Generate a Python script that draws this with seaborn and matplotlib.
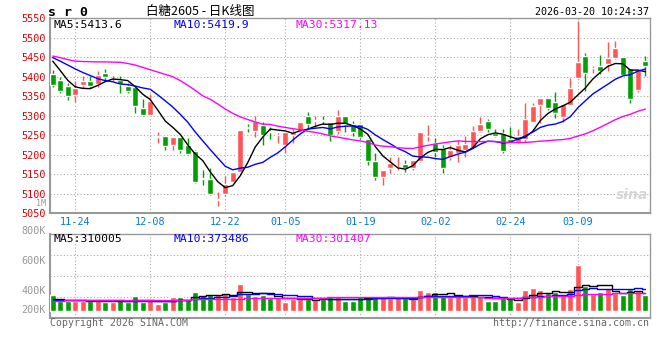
import numpy as np
import pandas as pd
import matplotlib
matplotlib.use("Agg")
import matplotlib.pyplot as plt
import seaborn as sns

sns.set_style("white")
plt.rcParams["font.family"] = ["DejaVu Sans Mono", "Noto Sans CJK SC"]

# ---- data (SR0 daily, 80 sessions) ----
opens = [5406.8, 5390.6, 5375, 5352, 5378.6, 5389, 5380, 5408.6, 5404, 5390.6,
         5376, 5372.6, 5318.7, 5301.6, 5245, 5246.8, 5225.6, 5245, 5223.7, 5208,
         5140, 5137.8, 5084, 5099.3, 5130, 5155.8, 5271, 5259.3, 5276.5, 5260,
         5250, 5224.2, 5251, 5259.3, 5299.6, 5286, 5288, 5283.3, 5259.3, 5299.6,
         5278, 5279, 5239.7, 5182.3, 5142, 5164.3, 5167, 5176.3, 5164.3, 5182.3,
         5247.5, 5228.6, 5215.8, 5194.4, 5203, 5211.5, 5215.8, 5261.2, 5286, 5256,
         5254.3, 5239.8, 5233, 5239, 5284.3, 5327, 5344.2, 5335.6, 5297, 5327,
         5395.6, 5452.9, 5422, 5427.2, 5432.4, 5446.9, 5450.4, 5423, 5365.6, 5440]
closes = [5378.6, 5362.3, 5349.5, 5371, 5389, 5375, 5403.4, 5398, 5405, 5381,
          5363, 5324.7, 5301.6, 5336.7, 5246, 5222, 5244, 5211, 5202, 5128.6,
          5137, 5099.3, 5086, 5124, 5155.8, 5263.6, 5268, 5286.7, 5250.8, 5258.5,
          5251, 5256.8, 5256.8, 5282.5, 5279, 5288, 5286, 5250.8, 5299.6, 5278,
          5256.8, 5244, 5182.3, 5142, 5159.2, 5178, 5168, 5166, 5186.6, 5258.5,
          5248.5, 5207, 5164.4, 5211.5, 5224.4, 5226.9, 5261.2, 5278.3, 5264.6, 5247.5,
          5209.8, 5228.6, 5247.5, 5290.3, 5324.5, 5345.9, 5318.5, 5307.4, 5329.7, 5371.6,
          5438.4, 5408.4, 5423, 5415.3, 5448.6, 5474.3, 5404.1, 5341.6, 5417, 5427.2]
highs = [5418, 5399, 5385, 5389, 5402.6, 5401.7, 5414.6, 5419, 5405, 5401.7,
         5384, 5377, 5342.6, 5356.3, 5257, 5247, 5244, 5246, 5241.6, 5211.6,
         5161, 5165, 5102.7, 5145.5, 5156, 5264, 5279, 5297.9, 5283.3, 5270.5,
         5255, 5257, 5265.3, 5283, 5309.8, 5299.6, 5299.6, 5284, 5315, 5300,
         5285, 5279, 5240, 5203.7, 5159.2, 5195, 5195, 5185, 5186.6, 5258.5,
         5276.5, 5241.5, 5224.4, 5224.4, 5237.2, 5248.3, 5273.2, 5297, 5292, 5267,
         5267, 5269.7, 5265.5, 5331.4, 5331.4, 5346, 5344.5, 5361.3, 5330, 5395.6,
         5542.8, 5459.8, 5427.2, 5455.5, 5489.7, 5491.4, 5450.4, 5423, 5417, 5453]
lows = [5373.5, 5359, 5339, 5334, 5371.7, 5371.7, 5373.5, 5391.4, 5388, 5358,
        5358, 5306.7, 5299, 5301.6, 5230.5, 5211, 5211, 5204, 5199.7, 5128,
        5122, 5097.5, 5068.5, 5092.4, 5130, 5154, 5256.8, 5244, 5223.4, 5239.7,
        5229, 5203.7, 5229.4, 5259, 5266, 5270.5, 5278, 5236, 5253, 5256.8,
        5246.5, 5239.7, 5173.7, 5135.2, 5122.4, 5152.3, 5159.2, 5155.8, 5159.2, 5182,
        5233.7, 5194.4, 5151.6, 5185.8, 5181.6, 5194.4, 5215, 5258.6, 5258.6, 5244,
        5204.7, 5228, 5228.6, 5233, 5284, 5280, 5314.3, 5292.8, 5284.3, 5327,
        5395, 5363, 5410.1, 5406.7, 5415.3, 5446, 5404, 5333, 5361.3, 5401.6]
volumes_k = [268, 165, 165, 165, 165, 165, 165, 154, 154, 182,
             154, 251, 154, 182, 114, 154, 233, 233, 199, 319,
             268, 285, 285, 302, 240, 456, 285, 257, 268, 216,
             227, 154, 194, 199, 199, 188, 199, 227, 227, 171,
             171, 240, 251, 227, 211, 211, 211, 211, 194, 353,
             319, 319, 257, 227, 257, 227, 257, 240, 165, 171,
             211, 227, 154, 353, 382, 353, 296, 313, 279, 365,
             780, 421, 279, 319, 387, 296, 268, 365, 337, 268]

# moving-average values at the left edge (window not yet full)
ma5_head = [5440, 5416, 5391, 5374]
ma10_head = [5449, 5440, 5430, 5420, 5411, 5403, 5395, 5390, 5387]
ma30_head = [5453, 5449, 5444, 5440, 5439, 5438.5, 5438, 5438, 5437.5, 5437,
             5434, 5430, 5424, 5418, 5412, 5406, 5400, 5390, 5378, 5365,
             5351, 5342, 5330, 5317, 5306, 5297, 5290, 5284, 5278]
vma5_head = [195, 193, 190, 188]
vma10_head = [183, 181, 180, 179, 178, 177, 176, 176, 175]
vma30_head = [174, 174, 175, 175, 176, 176, 177, 177, 178, 179,
              180, 180, 181, 182, 183, 185, 187, 189, 191, 193,
              195, 196, 198, 200, 202, 205, 209, 212, 216]

date_labels = ["11-24", "12-08", "12-22", "01-05", "01-19", "02-02", "02-24", "03-09"]
date_idx = [3, 13, 23, 31, 41, 51, 61, 70]

RED = "#ff5555"
GREEN = "#00a000"
GRID = "#aaaaaa"
FRAME = "#999999"

df = pd.DataFrame({"o": opens, "c": closes, "h": highs, "l": lows,
                   "v": np.array(volumes_k) * 1000})
df["i"] = np.arange(len(df))
df["dir"] = np.where(df["c"] >= df["o"], "up", "down")


def with_head(series, n, head):
    ma = series.rolling(n).mean().to_numpy()
    ma[:len(head)] = head
    return ma


df["ma5"] = with_head(df["c"], 5, ma5_head)
df["ma10"] = with_head(df["c"], 10, ma10_head)
df["ma30"] = with_head(df["c"], 30, ma30_head)
df["vma5"] = with_head(df["v"], 5, np.array(vma5_head) * 1000)
df["vma10"] = with_head(df["v"], 10, np.array(vma10_head) * 1000)
df["vma30"] = with_head(df["v"], 30, np.array(vma30_head) * 1000)

W, H = 660, 360
fig = plt.figure(figsize=(6.6, 3.6), dpi=100)
ax = fig.add_axes([50 / W, 1 - 213 / H, 599.5 / W, 194.7 / H])
axv = fig.add_axes([50 / W, 1 - 317.7 / H, 599.5 / W, 83.4 / H])

# ---- price panel ----
colors = np.where(df["dir"] == "up", RED, GREEN)
body_lo = np.minimum(df["o"], df["c"])
body_h = np.maximum(np.abs(df["c"] - df["o"]), 1.5)
ax.vlines(df["i"], df["l"], df["h"], colors=colors, lw=1, zorder=3)
ax.bar(df["i"], body_h, bottom=body_lo, width=0.8, color=colors, zorder=4)
sns.lineplot(x=df["i"], y=df["ma5"], color="black", lw=1, ax=ax, zorder=5)
sns.lineplot(x=df["i"], y=df["ma10"], color="#0000ff", lw=1, ax=ax, zorder=5)
sns.lineplot(x=df["i"], y=df["ma30"], color="#ff00ff", lw=1, ax=ax, zorder=5)

ax.set_xlim(-0.36, 79.55)
ax.set_ylim(5050, 5550)
ax.set_yticks(np.arange(5050, 5551, 50))
ax.set_xticks(date_idx)
ax.set_xticklabels(date_labels)
ax.tick_params(axis="y", length=0, pad=3, labelsize=7.3, labelcolor="#e00000")
ax.tick_params(axis="x", length=0, pad=3, labelsize=7.3, labelcolor="#0a7acc")
ax.grid(True, color=GRID, lw=0.8, ls=(0, (1, 2)))
ax.set_xlabel("")
ax.set_ylabel("")

# ---- volume panel ----
sns.barplot(data=df, x="i", y="v", hue="dir", palette={"up": RED, "down": GREEN},
            dodge=False, width=0.8, saturation=1, errorbar=None, legend=False,
            ax=axv, zorder=3)
for col, c in [("vma5", "black"), ("vma10", "#0000ff"), ("vma30", "#ff00ff")]:
    sns.lineplot(x=df["i"], y=df[col], color=c, lw=1, drawstyle="steps-mid",
                 ax=axv, zorder=5)
vlo, vhi = -120e3, 1306e3
axv.set_xlim(-0.36, 79.55)
axv.set_ylim(vlo, vhi)
axv.set_xticks(date_idx)
axv.set_xticklabels([])
axv.set_yticks([vlo + f * (vhi - vlo) for f in (0.25, 0.5, 0.75)])
axv.set_yticklabels([])
axv.tick_params(length=0)
axv.grid(True, color=GRID, lw=0.8, ls=(0, (1, 2)))
axv.set_xlabel("")
axv.set_ylabel("")
for lab, f in [("800K", 1.043), ("600K", 0.674), ("400K", 0.326), ("200K", 0.092)]:
    axv.text(-0.007, f, lab, transform=axv.transAxes, ha="right", va="center",
             fontsize=7.3, color="#999999", clip_on=False)

for a in (ax, axv):
    for s in a.spines.values():
        s.set_color(FRAME)
        s.set_linewidth(1)
    a.spines["left"].set_linewidth(1.5)
    a.spines["bottom"].set_linewidth(1.5)

# ---- texts ----
def ft(x, y, s, **kw):
    fig.text(x / W, 1 - y / H, s, va="center", **kw)

ft(48, 12, "s r 0", fontsize=9.5, fontweight="bold", color="black")
ft(200, 11, "白糖2605 - 日K线图", ha="center", fontsize=9, color="black",
   family=["Noto Sans CJK SC", "DejaVu Sans"])
ft(649, 12, "2026-03-20 10:24:37", ha="right", fontsize=7.2, color="black")
ft(54, 25, "MA5:5413.6", fontsize=8.2, color="black")
ft(174, 25, "MA10:5419.9", fontsize=8.2, color="#0000ff")
ft(295, 25, "MA30:5317.13", fontsize=8.2, color="#ff00ff")
ft(54, 238.5, "MA5:310005", fontsize=8.2, color="black")
ft(174, 238.5, "MA10:373486", fontsize=8.2, color="#0000ff")
ft(295, 238.5, "MA30:301407", fontsize=8.2, color="#ff00ff")
ft(46, 203.5, "1M", ha="right", fontsize=6, color="#999999")
ft(50, 323.5, "Copyright 2026 SINA.COM", fontsize=7.1, color="#666666")
ft(649, 323.5, "http://finance.sina.com.cn", ha="right", fontsize=7.1, color="#666666")
ft(648, 195, "sina", ha="right", fontsize=10, fontweight="bold", style="italic",
   color="#d6d6d6", family=["DejaVu Sans"])

fig.savefig("out.png", dpi=100)
